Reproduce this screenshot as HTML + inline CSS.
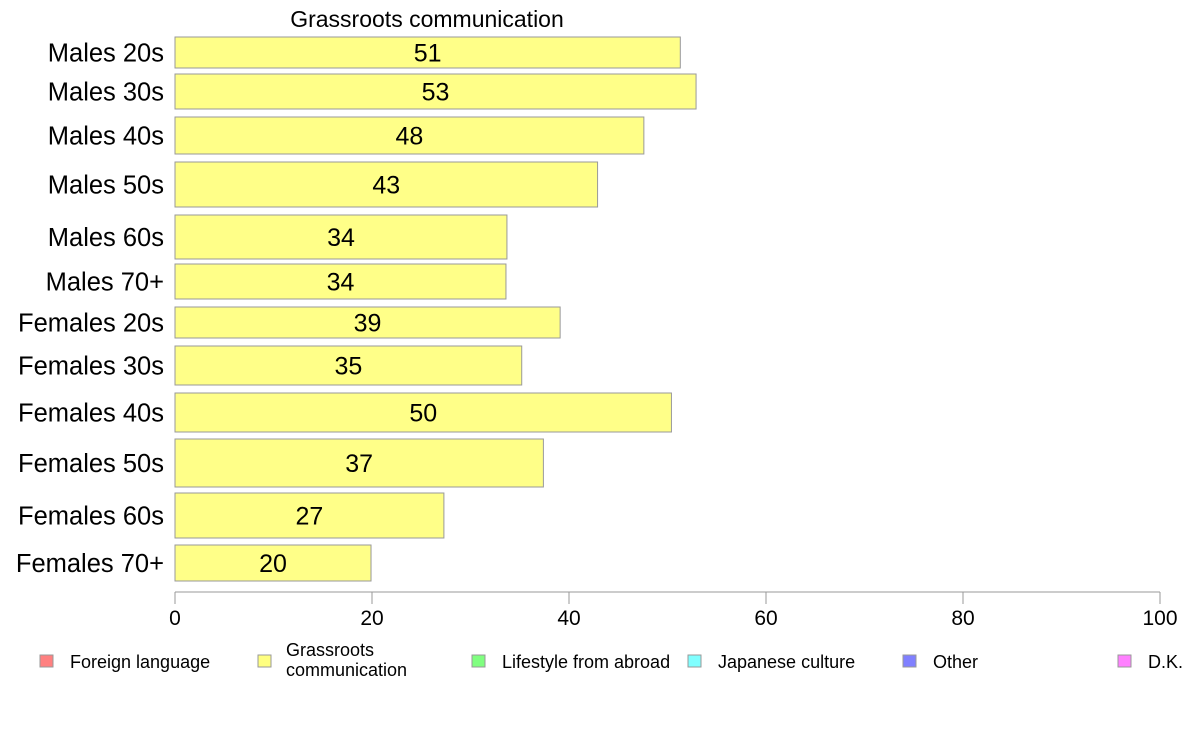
<!DOCTYPE html>
<html><head><meta charset="utf-8"><style>
body{margin:0;background:#fff;font-family:"Liberation Sans",sans-serif;}
svg{display:block}
</style></head><body>
<svg width="1188" height="736" xmlns="http://www.w3.org/2000/svg">
<text x="427" y="27" font-size="23" text-anchor="middle">Grassroots communication</text>
<g id="bars"></g>
<g id="axis"></g>
<g id="legend"></g>
</svg>
<script>
const categories=["Males 20s","Males 30s","Males 40s","Males 50s","Males 60s","Males 70+","Females 20s","Females 30s","Females 40s","Females 50s","Females 60s","Females 70+"];
const values=[51.3,52.9,47.6,42.9,33.7,33.6,39.1,35.2,50.4,37.4,27.3,19.9];
const labels=["51","53","48","43","34","34","39","35","50","37","27","20"];
const ticks=[0,20,40,60,80,100];
const legendLabels=["Foreign language","Grassroots communication","Lifestyle from abroad","Japanese culture","Other","D.K."];
const legendColors=["#ff8080","#ffff80","#80ff80","#80ffff","#8080ff","#ff80ff"];
// layout (row bands, pixels)
const rowTop=[37,74,117,162,215,264,307,346,393,439,493,545];
const rowBot=[68,109,154,207,259,299,338,385,432,487,538,581];
const NS="http://www.w3.org/2000/svg";
const x=v=>175+v*9.85;
function mk(tag,attrs,parent,txt){const e=document.createElementNS(NS,tag);for(const k in attrs)e.setAttribute(k,attrs[k]);if(txt!==undefined)e.textContent=txt;parent.appendChild(e);return e;}
const bars=document.getElementById('bars');
categories.forEach((c,i)=>{
  const r=mk('rect',{x:x(0),y:rowTop[i],width:x(values[i])-x(0),height:rowBot[i]-rowTop[i],fill:'#ffff88',stroke:'#999','stroke-width':1},bars);
  
  
  const cy=(rowTop[i]+rowBot[i])/2;
  const t=mk('text',{x:(x(0)+x(values[i]))/2,y:cy+9,'font-size':25,'text-anchor':'middle'},bars,labels[i]);
  
  
  const l=mk('text',{x:164,y:cy+9,'font-size':25.5,'text-anchor':'end'},bars,c);
  
  
});
const ax=document.getElementById('axis');
mk('line',{x1:x(0),x2:x(100),y1:592,y2:592,stroke:'#999'},ax);
ticks.forEach(t=>{
  const tl=mk('line',{x1:x(t),x2:x(t),y1:592,y2:604,stroke:'#999'},ax);
  
  
  const tt=mk('text',{x:x(t),y:625,'font-size':21,'text-anchor':'middle'},ax,String(t));
  
  
});
const lg=document.getElementById('legend');
const lx=[40,258,472,688,903,1118];
legendLabels.forEach((s,i)=>{
  const sw=mk('rect',{x:lx[i],y:655,width:13,height:12,fill:legendColors[i],stroke:'#999'},lg);
  
  
  if(i===1){
    const t=mk('text',{x:lx[i]+28,y:656,'font-size':18},lg);
    
    
    mk('tspan',{x:lx[i]+28,dy:0},t,'Grassroots');
    mk('tspan',{x:lx[i]+28,dy:20},t,'communication');
  } else {
    const t=mk('text',{x:lx[i]+30,y:668,'font-size':18},lg,s);
    
    
  }
});
</script>
</body></html>
